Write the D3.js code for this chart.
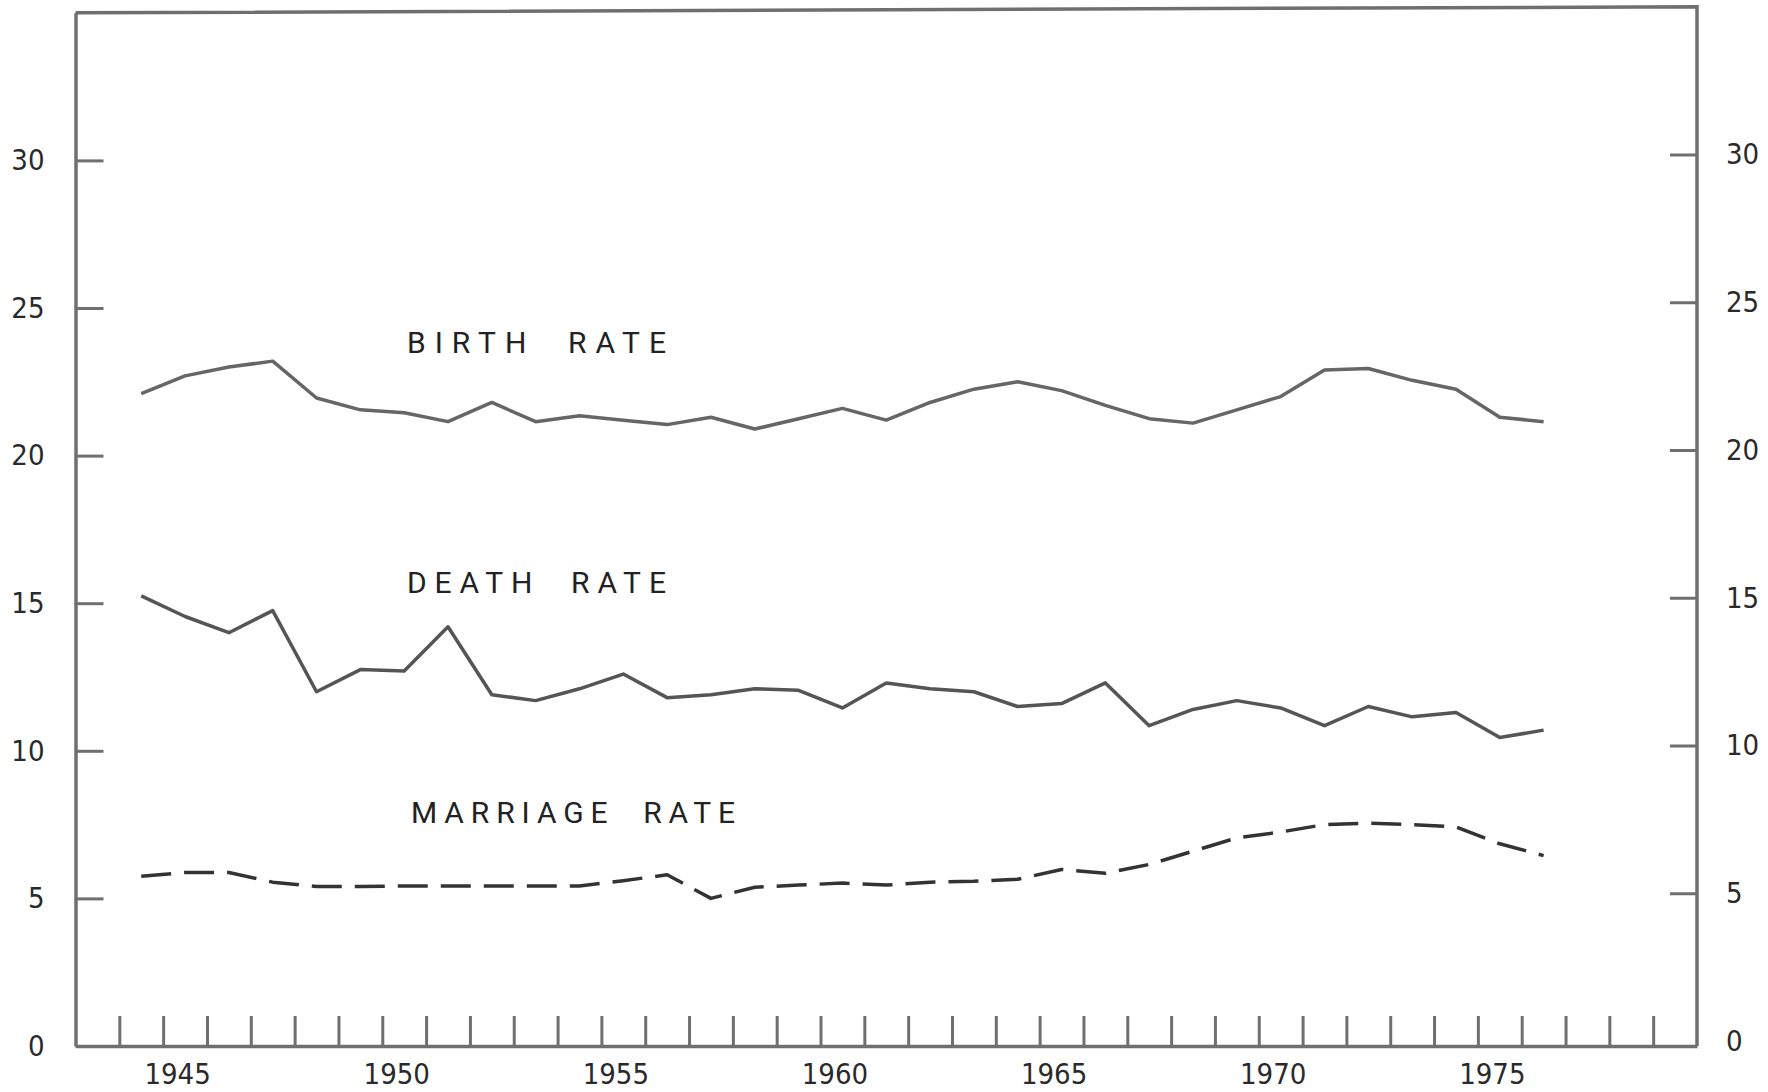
<!DOCTYPE html>
<html>
<head>
<meta charset="utf-8">
<script src="https://cdn.jsdelivr.net/npm/d3@7"></script>
<style>
  body { margin: 0; background: #fff; }
  svg { display: block; }
  .axis .domain { stroke: #6f6f6f; stroke-width: 3.5; }
  .axis line { stroke: #6f6f6f; stroke-width: 3; }
  .axis text, .year { font-family: "Liberation Sans Narrow", "DejaVu Sans Condensed", sans-serif; font-size: 29px; fill: #2a2a2a; }
  .series-label { font-family: Roboto, "DejaVu Sans", sans-serif; font-weight: 400; font-size: 30px; fill: #222; white-space: pre; }
  .rate { fill: none; stroke-linejoin: round; }
</style>
</head>
<body>
<div id="chart"></div>
<script>
var years = [1944, 1945, 1946, 1947, 1948, 1949, 1950, 1951, 1952, 1953, 1954,
             1955, 1956, 1957, 1958, 1959, 1960, 1961, 1962, 1963, 1964, 1965,
             1966, 1967, 1968, 1969, 1970, 1971, 1972, 1973, 1974, 1975, 1976];

var birthRate = [22.1, 22.7, 23.0, 23.2, 21.95, 21.55, 21.45, 21.15, 21.8, 21.15, 21.35,
                 21.2, 21.05, 21.3, 20.9, 21.25, 21.6, 21.2, 21.8, 22.25, 22.5, 22.2,
                 21.7, 21.25, 21.1, 21.55, 22.0, 22.9, 22.95, 22.55, 22.25, 21.3, 21.15];

var deathRate = [15.25, 14.55, 14.0, 14.75, 12.0, 12.75, 12.7, 14.2, 11.9, 11.7, 12.1,
                 12.6, 11.8, 11.9, 12.1, 12.05, 11.45, 12.3, 12.1, 12.0, 11.5, 11.6,
                 12.3, 10.85, 11.4, 11.7, 11.45, 10.85, 11.5, 11.15, 11.3, 10.45, 10.7];

var marriageRate = [5.75, 5.88, 5.88, 5.55, 5.4, 5.4, 5.42, 5.42, 5.42, 5.42, 5.42,
                    5.6, 5.8, 5.0, 5.38, 5.45, 5.52, 5.45, 5.55, 5.58, 5.65, 5.98,
                    5.85, 6.15, 6.6, 7.05, 7.25, 7.5, 7.55, 7.5, 7.42, 6.85, 6.45];

var yTicks = [0, 5, 10, 15, 20, 25, 30];
var xTicks = [1944, 1945, 1946, 1947, 1948, 1949, 1950, 1951, 1952, 1953, 1954, 1955,
              1956, 1957, 1958, 1959, 1960, 1961, 1962, 1963, 1964, 1965, 1966, 1967,
              1968, 1969, 1970, 1971, 1972, 1973, 1974, 1975, 1976, 1977, 1978, 1979];
var yearLabels = [1945, 1950, 1955, 1960, 1965, 1970, 1975];
var seriesNames = ["BIRTH  RATE", "DEATH  RATE", "MARRIAGE  RATE"];

var W = 1768, H = 1092;
var left = 75.5, right = 1697;

var x = d3.scaleLinear().domain([1943, 1980]).range([left, right]);
// the scanned sheet is slightly tilted, so the right-hand scale sits a few px higher
var y = d3.scaleLinear().domain([0, 35]).range([1046, 1046 - 35 * 29.52]);
var yR = d3.scaleLinear().domain([0, 35]).range([1041, 1041 - 35 * 29.55]);

var svg = d3.select("#chart").append("svg")
    .attr("width", W)
    .attr("height", H);

// top and right edges of the frame
svg.append("path")
    .attr("d", "M" + x(1943) + "," + y(35) + "L" + x(1980) + "," + yR(35) + "L" + x(1980) + "," + y(0))
    .attr("fill", "none")
    .attr("stroke", "#6f6f6f")
    .attr("stroke-width", 3.5);

svg.append("g")
    .attr("class", "axis axis--y")
    .attr("transform", "translate(" + left + ",0)")
    .call(d3.axisLeft(y).tickValues(yTicks).tickSizeInner(-28).tickSizeOuter(0).tickPadding(31));

var yr = svg.append("g")
    .attr("class", "axis axis--yr")
    .attr("transform", "translate(" + right + ",0)")
    .call(d3.axisRight(yR).tickValues(yTicks).tickSizeInner(-27).tickSizeOuter(0).tickPadding(29));
yr.select(".domain").remove();
yr.selectAll(".tick").filter(function(d) { return d == 0; }).select("line").remove();

svg.append("g")
    .attr("class", "axis axis--x")
    .attr("transform", "translate(0," + y(0) + ")")
    .call(d3.axisBottom(x).tickValues(xTicks).tickSizeInner(-30).tickSizeOuter(0).tickFormat(""));

// year labels sit under the middle of each year slot
svg.selectAll(".year")
    .data(yearLabels)
  .enter().append("text")
    .attr("class", "year")
    .attr("text-anchor", "middle")
    .attr("x", function(d) { return x(d + 0.33); })
    .attr("y", 1084)
    .text(function(d) { return d; });

var line = d3.line()
    .x(function(d) { return x(d[0] + 0.5); })
    .y(function(d) { return y(d[1]); });

function pairs(vals) {
  return years.map(function(yr, i) { return [yr, vals[i]]; });
}

svg.append("path")
    .attr("class", "rate birth")
    .attr("d", line(pairs(birthRate)))
    .attr("stroke", "#666")
    .attr("stroke-width", 3.5);

svg.append("path")
    .attr("class", "rate death")
    .attr("d", line(pairs(deathRate)))
    .attr("stroke", "#555")
    .attr("stroke-width", 3.5);

svg.append("path")
    .attr("class", "rate marriage")
    .attr("d", line(pairs(marriageRate)))
    .attr("stroke", "#333")
    .attr("stroke-width", 3.5)
    .attr("stroke-dasharray", "30,13");

var labelPos = [
  {x0: 407, x1: 658, base: 353},
  {x0: 407, x1: 658, base: 593},
  {x0: 411, x1: 727, base: 823}
];
svg.selectAll(".series-label")
    .data(seriesNames)
  .enter().append("text")
    .attr("class", "series-label")
    .attr("x", function(d, i) { return labelPos[i].x0; })
    .attr("y", function(d, i) { return labelPos[i].base; })
    .attr("textLength", function(d, i) { return labelPos[i].x1 - labelPos[i].x0 + 8; })
    .attr("lengthAdjust", "spacing")
    .text(function(d) { return d; });
</script>
</body>
</html>
